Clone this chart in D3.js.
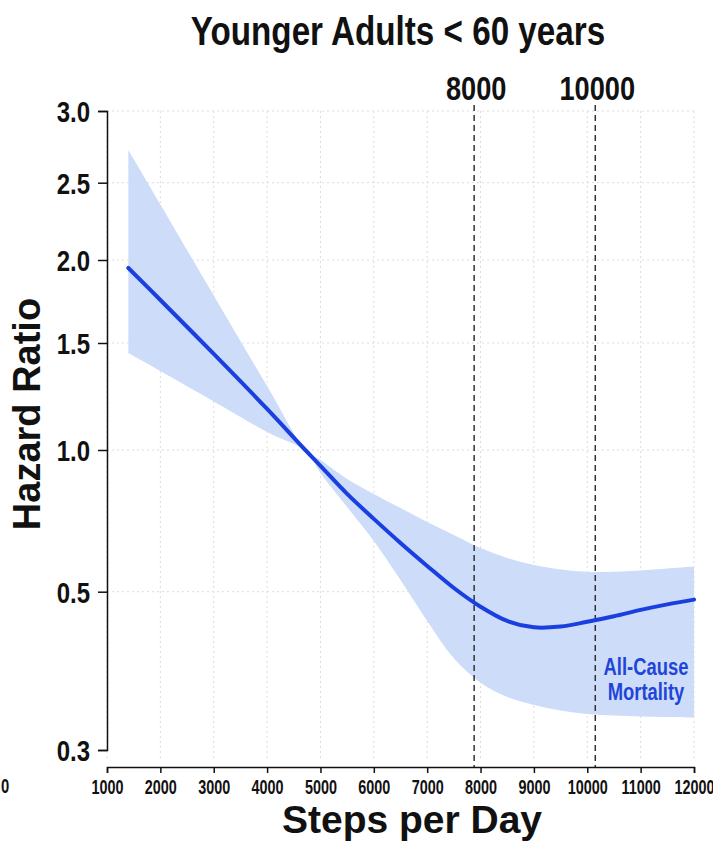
<!DOCTYPE html>
<html>
<head>
<meta charset="utf-8">
<script src="https://cdn.jsdelivr.net/npm/d3@7"></script>
<style>
  html, body { margin: 0; padding: 0; background: #ffffff; }
  svg { display: block; }
</style>
</head>
<body>
<svg id="chart" width="713" height="859"></svg>
<script>
// ---------------- data ----------------
const chartTitle = "Younger Adults < 60 years";
const xTitle = "Steps per Day";
const yTitle = "Hazard Ratio";
const seriesLabel = ["All-Cause", "Mortality"];

const steps = [1400, 2000, 3000, 4000, 4750, 5000, 5500, 6000, 6500, 7000, 7500,
               8000, 8500, 9000, 9500, 10000, 10500, 11000, 11500, 12000];
const hazard = [1.952, 1.759, 1.449, 1.192, 0.993, 0.944, 0.845, 0.757, 0.672, 0.591, 0.513,
                0.481, 0.463, 0.455, 0.456, 0.462, 0.469, 0.477, 0.484, 0.490];
const ciUpper = [2.728, 2.359, 1.786, 1.299, 0.993, 0.965, 0.898, 0.845, 0.795, 0.746, 0.700,
                 0.654, 0.619, 0.594, 0.578, 0.570, 0.570, 0.575, 0.582, 0.589];
const ciLower = [1.453, 1.369, 1.227, 1.084, 0.993, 0.919, 0.799, 0.679, 0.541, 0.463, 0.416,
                 0.385, 0.367, 0.357, 0.350, 0.3455, 0.3436, 0.3423, 0.3417, 0.3410];

const xTicks = [1000, 2000, 3000, 4000, 5000, 6000, 7000, 8000, 9000, 10000, 11000, 12000];
const yTicks = [0.3, 0.5, 1.0, 1.5, 2.0, 2.5, 3.0];
const yTickLabels = ["0.3", "0.5", "1.0", "1.5", "2.0", "2.5", "3.0"];

const refSteps = [7880, 10150];
const refLabels = ["8000", "10000"];

// ---------------- layout ----------------
const svg = d3.select("#chart");
const font = "'Liberation Sans', Arial, sans-serif";

// emulate a condensed bold face by compressing glyphs horizontally
function condense(sel, factor) {
  sel.each(function () {
    const w = this.getComputedTextLength();
    d3.select(this).attr("textLength", w * factor).attr("lengthAdjust", "spacingAndGlyphs");
  });
}

const x = d3.scaleLinear().domain([1000, 12000]).range([107, 694]);
// the source axis is not uniform: piecewise mapping through the tick values
const y = d3.scaleLinear().domain(yTicks).range([750, 591.7, 450, 343, 260, 182.7, 111]);

const yTop = 111, yBottom = 750, xAxisY = 767;

const data = steps.map((s, i) => ({ s, hr: hazard[i], lo: ciLower[i], hi: ciUpper[i] }));
const curve = d3.curveCatmullRom.alpha(0.5);

// grid
const grid = svg.append("g");
grid.selectAll("line.v").data(xTicks).join("line")
  .attr("x1", d => x(d)).attr("x2", d => x(d))
  .attr("y1", yTop).attr("y2", yBottom + 10)
  .attr("stroke", "#dcdcdc").attr("stroke-width", 1).attr("stroke-dasharray", "2,3");
grid.selectAll("line.h").data(yTicks.filter(d => d > 0.3)).join("line")
  .attr("x1", x(1000)).attr("x2", x(12000))
  .attr("y1", d => y(d)).attr("y2", d => y(d))
  .attr("stroke", "#dcdcdc").attr("stroke-width", 1).attr("stroke-dasharray", "2,3");

// confidence band
svg.append("path").datum(data)
  .attr("fill", "#cddcf8")
  .attr("d", d3.area().x(d => x(d.s)).y0(d => y(d.lo)).y1(d => y(d.hi)).curve(curve));

// reference dashed lines
const refs = svg.append("g");
refSteps.forEach((v, i) => {
  refs.append("line")
    .attr("x1", x(v)).attr("x2", x(v))
    .attr("y1", 105).attr("y2", xAxisY)
    .attr("stroke", "#333").attr("stroke-width", 1.5).attr("stroke-dasharray", "6,4");
  refs.append("text")
    .attr("x", x(v) + 2).attr("y", 100)
    .attr("text-anchor", "middle")
    .attr("font-family", font).attr("font-weight", "bold").attr("font-size", 34)
    .attr("fill", "#111").text(refLabels[i]);
});
condense(refs.selectAll("text"), 0.8);

// main curve
svg.append("path").datum(data)
  .attr("fill", "none").attr("stroke", "#1a3fe0").attr("stroke-width", 4)
  .attr("stroke-linecap", "round")
  .attr("d", d3.line().x(d => x(d.s)).y(d => y(d.hr)).curve(curve));

// y axis
const yAxis = svg.append("g").attr("transform", "translate(107,0)")
  .call(d3.axisLeft(y).tickValues(yTicks).tickFormat((d, i) => yTickLabels[i]).tickSize(9).tickPadding(8));
yAxis.selectAll("path, line").attr("stroke", "#111").attr("stroke-width", 1.5);
yAxis.selectAll("text").attr("font-family", font).attr("font-weight", "bold")
  .attr("font-size", 30).attr("fill", "#111").attr("dy", "0.36em");
condense(yAxis.selectAll("text"), 0.8);

// x axis
const xAxis = svg.append("g").attr("transform", `translate(0,${xAxisY})`)
  .call(d3.axisBottom(x).tickValues(xTicks).tickFormat(d3.format("d")).tickSize(6).tickPadding(7));
xAxis.selectAll("path, line").attr("stroke", "#111").attr("stroke-width", 1.5);
xAxis.selectAll("text").attr("font-family", font).attr("font-weight", "bold")
  .attr("font-size", 20).attr("fill", "#111");
condense(xAxis.selectAll("text"), 0.72);

// stray cropped label at the far left
const stray = svg.append("text").attr("x", 5).attr("y", 793).attr("text-anchor", "middle")
  .attr("font-family", font).attr("font-weight", "bold").attr("font-size", 20)
  .attr("fill", "#111").text("0");
condense(stray, 0.74);

// titles
const title = svg.append("text").attr("x", 398).attr("y", 45).attr("text-anchor", "middle")
  .attr("font-family", font).attr("font-weight", "bold").attr("font-size", 41)
  .attr("fill", "#111").text(chartTitle);
condense(title, 0.81);
svg.append("text").attr("x", 412).attr("y", 833).attr("text-anchor", "middle")
  .attr("font-family", font).attr("font-weight", "bold").attr("font-size", 39)
  .attr("fill", "#111").text(xTitle);
svg.append("text").attr("transform", "translate(40,414) rotate(-90)").attr("text-anchor", "middle")
  .attr("font-family", font).attr("font-weight", "bold").attr("font-size", 38)
  .attr("fill", "#111").text(yTitle);

// series annotation
const ann = svg.append("g").attr("font-family", font).attr("font-weight", "bold")
  .attr("font-size", 23).attr("fill", "#1f45d8").attr("text-anchor", "middle");
seriesLabel.forEach((t, i) => {
  ann.append("text").attr("x", 646).attr("y", 675 + i * 25).text(t);
});
condense(ann.selectAll("text"), 0.8);
</script>
</body>
</html>
